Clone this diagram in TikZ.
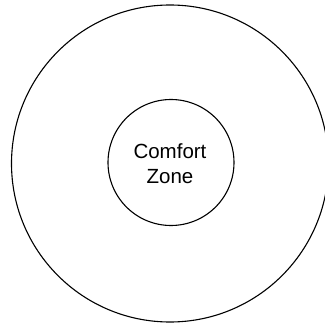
\documentclass[tikz,border=0pt]{standalone}
\usepackage{fontspec}
\setmainfont{Liberation Sans}
\begin{document}
\begin{tikzpicture}[x=1pt,y=-1pt,
  ring/.style={draw=black, line width=1.1pt, circle, inner sep=0pt},
  label/.style={align=center, font=\fontsize{20.5}{25}\selectfont}]
\useasboundingbox (0,0) rectangle (325,324);
\clip (0,0) rectangle (325,324);
\node[ring, minimum size=317pt] (outer) at (170,163.5) {};
\node[ring, minimum size=126pt] (inner) at (171,162.5) {};
\node[label] (txt) at (170,164) {Comfort\\Zone};
\end{tikzpicture}
\end{document}
